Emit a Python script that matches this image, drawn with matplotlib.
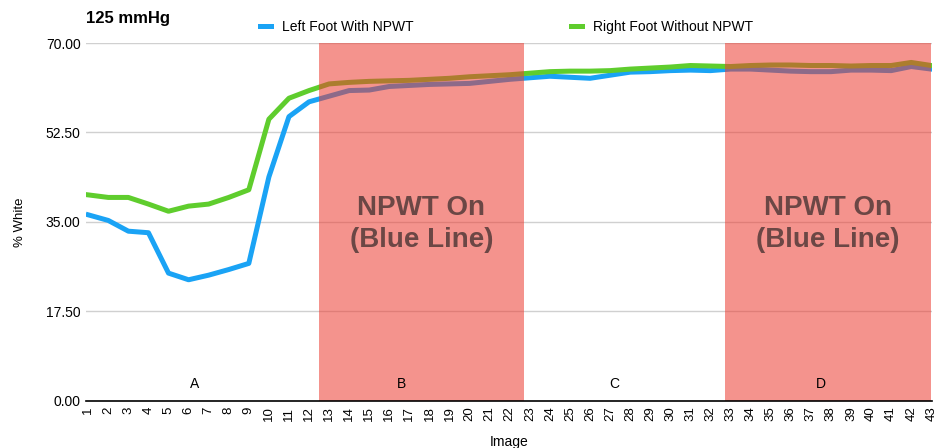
import matplotlib
matplotlib.use('Agg')
from matplotlib import pyplot as plt

plt.rcParams['font.family'] = ['Liberation Sans', 'DejaVu Sans']

images = list(range(1, 44))

left_foot = [36.4, 35.3, 33.2, 32.9, 25.0, 23.7, 24.6, 25.7, 26.9, 43.8,
             55.6, 58.5, 59.6, 60.7, 60.8, 61.5, 61.7, 61.9, 62.0, 62.1,
             62.5, 62.9, 63.2, 63.5, 63.3, 63.1, 63.7, 64.3, 64.4, 64.6,
             64.7, 64.6, 64.9, 64.9, 64.7, 64.5, 64.4, 64.4, 64.7, 64.7,
             64.6, 65.4, 64.9]

right_foot = [40.3, 39.8, 39.8, 38.5, 37.1, 38.1, 38.5, 39.8, 41.3, 55.1,
              59.2, 60.7, 62.0, 62.3, 62.5, 62.6, 62.7, 62.9, 63.1, 63.4,
              63.6, 63.8, 64.1, 64.4, 64.5, 64.5, 64.6, 64.9, 65.1, 65.3,
              65.6, 65.5, 65.4, 65.6, 65.7, 65.7, 65.6, 65.6, 65.5, 65.6,
              65.6, 66.2, 65.6]

yticks = [0, 17.5, 35, 52.5, 70]

# npwt on periods (image index ranges)
npwt_on = [(12.5, 22.7), (32.7, 43.0)]
phases = ['A', 'B', 'C', 'D']
phase_x = [6.3, 16.6, 27.2, 37.5]

fig = plt.figure(figsize=(9.37, 4.48), dpi=100)
ax = fig.add_axes([0.092, 0.105, 0.903, 0.799])

ax.plot(images, left_foot, c='#1aa3f5', lw=3.6, label='Left Foot With NPWT', zorder=3)
ax.plot(images, right_foot, c='#5fcd2d', lw=3.6, label='Right Foot Without NPWT', zorder=3)

for start, end in npwt_on:
  ax.axvspan(start, end, color='#ec3b30', alpha=0.55, lw=0, zorder=4)
  ax.text((start + end) / 2, 34.6, 'NPWT On\n(Blue Line)', ha='center', va='center',
          fontsize=20, fontweight='bold', color='#6b4745', linespacing=1.3, zorder=5)

for p, x in zip(phases, phase_x):
  ax.text(x, 3.3, p, ha='center', va='center', fontsize=10, zorder=5)

ax.set_xlim(0.9, 43.05)
ax.set_ylim(0, 70)
ax.set_xticks(images)
ax.set_xticklabels([str(i) for i in images], rotation=90, fontsize=9.5)
ax.set_yticks(yticks)
ax.set_yticklabels(['%.2f' % v for v in yticks], fontsize=10)
ax.tick_params(length=0, pad=4)
ax.grid(True, axis='y', color='#d0d0d0', lw=1)
ax.set_axisbelow(True)
for s in ['left', 'right', 'top']:
  ax.spines[s].set_visible(False)
ax.spines['bottom'].set_color('black')
ax.spines['bottom'].set_linewidth(1.2)
ax.spines['bottom'].set_zorder(6)

ax.set_ylabel('% White', fontsize=9.5)
ax.yaxis.set_label_coords(-0.071, 0.5)
ax.set_xlabel('Image', fontsize=10)
ax.xaxis.set_label_coords(0.5, -0.095)

fig.text(0.092, 0.958, '125 mmHg', fontsize=12, fontweight='bold', va='center')
ax.legend(loc='center', bbox_to_anchor=(0.497, 1.045), ncol=2, frameon=False,
          fontsize=10, handlelength=0.8, columnspacing=11.3, handletextpad=0.8)

fig.savefig('out.png', dpi=100)
